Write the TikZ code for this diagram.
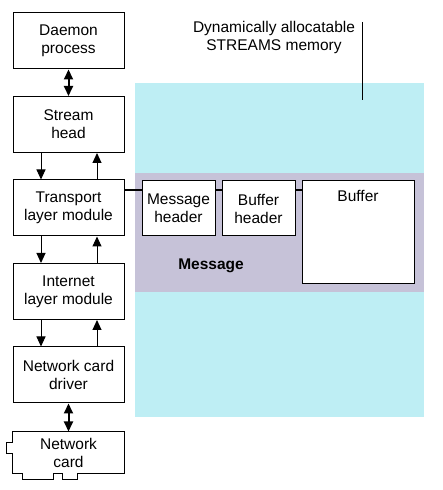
\documentclass[tikz,border=0pt]{standalone}
\usepackage{fontspec}
\setmainfont{Liberation Sans}
\usetikzlibrary{positioning,arrows.meta}

\definecolor{memcyan}{RGB}{190,238,244}
\definecolor{msggrey}{RGB}{198,194,216}

\tikzstyle{layer} = [rectangle,
minimum width=111pt,
minimum height=56pt,
text centered,
align=center,
line width=1pt,
draw=black,
fill=white,
font=\fontsize{15.5}{18}\selectfont]
\tikzstyle{part} = [rectangle,
minimum width=73pt,
minimum height=55pt,
text centered,
align=center,
line width=1pt,
draw=black,
fill=white,
font=\fontsize{15.5}{18}\selectfont]
\tikzstyle{link} = [line width=2pt]
\tikzstyle{flow} = [line width=1pt, ->]
\tikzstyle{both} = [line width=2pt, <->]

\begin{document}
\begin{tikzpicture}[x=1pt, y=1pt, node distance=83.5pt,
  >={Triangle[width=9pt,length=10pt]}]
\useasboundingbox (0,0) rectangle (443,490);

% memory areas
\node (mem) [rectangle, fill=memcyan, minimum width=289pt, minimum height=334pt, inner sep=0pt] at (279.5,240) {};
\node (msg) [rectangle, fill=msggrey, minimum width=289pt, minimum height=119pt, inner sep=0pt] at (279.5,257.5) {};
\node (msglabel) at (211,224) {\fontsize{15.5}{18}\selectfont\bfseries Message};

\node (memlabel) [align=center, font=\fontsize{15.5}{18}\selectfont] at (274,453) {Dynamically allocatable\\STREAMS memory};
\coordinate (pintop) at (362,468);
\coordinate (pinend) at (362,390);
\draw [line width=1pt] (pintop) -- (pinend);

% stack
\node (daemon) [layer] at (68.5,449) {Daemon\\process};
\node (stream) [layer, below of=daemon] {Stream\\head};
\node (transport) [layer, below of=stream] {Transport\\layer module};
\node (internet) [layer, below of=transport] {Internet\\layer module};
\node (driver) [layer, below of=internet] {Network card\\driver};
\node (card) [layer, draw=none, fill=none, minimum height=41pt, below of=driver, yshift=6pt] {Network\\card};

\draw [line width=1pt] (card.north west) -- (card.north east) -- (card.south east)
  -- ++(-47,0) -- ++(0,-6) -- ++(-15,0) -- ++(0,6) -- ++(-9,0) -- ++(0,-6)
  -- ++(-31,0) -- ++(0,6) -- (card.south west) -- ++(0,20) -- ++(-6,0)
  -- ++(0,11) -- ++(6,0) -- cycle;

% message blocks
\node (msghdr) [part] at (178.5,281.5) {Message\\header};
\node (bufhdr) [part, right of=msghdr, xshift=-3.5pt] {Buffer\\header};
\node (buffer) [part, minimum width=112pt, minimum height=103pt,
  label={[anchor=north, inner sep=10pt, font=\fontsize{15.5}{18}\selectfont]north:Buffer}] at (358,257.5) {};

\draw [link] ([yshift=18pt]transport.east) -- ([yshift=18pt]transport.east -| msghdr.west);
\draw [link] ([yshift=18.5pt]msghdr.east) -- ([yshift=18.5pt]msghdr.east -| bufhdr.west);
\draw [link] ([yshift=18.5pt]bufhdr.east) -- ([yshift=18.5pt]bufhdr.east -| buffer.west);

% arrows
\draw [both] (daemon) -- (stream);
\draw [flow] ([xshift=-27.5pt]stream.south) -- ([xshift=-27.5pt]transport.north);
\draw [flow] ([xshift=28.5pt]transport.north) -- ([xshift=28.5pt]stream.south);
\draw [flow] ([xshift=-27.5pt]transport.south) -- ([xshift=-27.5pt]internet.north);
\draw [flow] ([xshift=28.5pt]internet.north) -- ([xshift=28.5pt]transport.south);
\draw [flow] ([xshift=-27.5pt]internet.south) -- ([xshift=-27.5pt]driver.north);
\draw [flow] ([xshift=28.5pt]driver.north) -- ([xshift=28.5pt]internet.south);
\draw [both] (driver) -- (card);
\end{tikzpicture}
\end{document}
